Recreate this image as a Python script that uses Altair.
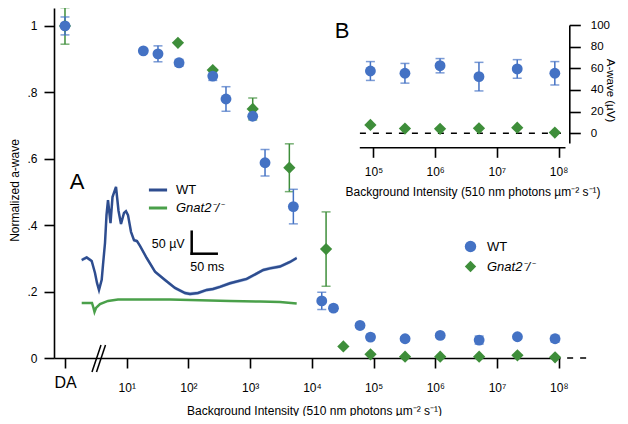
import altair as alt
import pandas as pd

FONT = "Liberation Sans"
BLUE = "#4472C4"
GREEN = "#3E8E3A"
TRACE_BLUE = "#2E4D8F"
TRACE_BAND = "#B9CCEA"
TRACE_GREEN = "#4AA04A"
GENO = ["WT", "Gnat2\u207b/\u207b"]
TRACE_SERIES = ["wt_trace", "gnat2_trace"]

# ---- Panel A: normalized a-wave vs background intensity (DA plotted at 1) ----
wt_int = [1, 18.6, 32.1, 70.5, 248, 406, 1100, 1742, 5012, 14454, 22387, 60256, 89125,
          323594, 1.2e6, 5.13e6, 2.14e7, 8.71e7]
wt_norm = [1.0, 0.925, 0.916, 0.889, 0.849, 0.78, 0.728, 0.588, 0.456, 0.172, 0.15, 0.098,
           0.063, 0.058, 0.068, 0.054, 0.064, 0.058]
wt_err = [0.027, 0.0, 0.024, 0.01, 0.013, 0.037, 0.006, 0.04, 0.052, 0.026, 0.008, 0.0,
          0.008, 0.006, 0.005, 0.012, 0.006, 0.01]

g_int = [1, 67.6, 248, 1100, 4315, 16982, 32359, 89125, 323594, 1.2e6, 5.13e6, 2.14e7, 8.71e7]
g_norm = [1.0, 0.949, 0.867, 0.75, 0.573, 0.328, 0.035, 0.011, 0.004, 0.004, 0.004, 0.008, 0.002]
g_err = [0.055, 0.0, 0.0, 0.033, 0.072, 0.112, 0.0, 0.0, 0.0, 0.0, 0.0, 0.0, 0.0]

# ---- Panel B: absolute a-wave (uV) at bright backgrounds ----
b_int = [89125, 323594, 1.2e6, 5.13e6, 2.14e7, 8.71e7]
b_wt = [57.5, 55.4, 62.4, 52.3, 59.4, 55.4]
b_wt_err = [8.7, 9.1, 6.6, 13.2, 8.6, 10.8]
b_g = [7.7, 4.3, 4.1, 4.6, 5.2, 0.6]

# ---- Inset traces (time in ms, amplitude in uV) ----
wt_t = [0, 10, 20, 26.6, 30.6, 34.6, 40, 42.6, 46.6, 49.6, 52.6, 57.6, 61.6, 68.6, 73.6,
        78.6, 84.6, 88.6, 92.6, 98.6, 104.6, 110.6, 116.6, 130, 146.6, 166.6, 186.6, 206.6,
        216.6, 232.6, 250, 262.6, 276.6, 296.6, 330, 363.2, 376.6, 396.6, 416.6, 430]
wt_uv = [0, 5.7, -2.3, -29.5, -52, -68, -45, -11, 38.6, 102, 136, 84, 143, 166, 112,
         82, 107, 111, 102, 64, 45, 43, 32, 4.5, -26.6, -45.5, -63.6, -75,
         -77, -75, -68, -66, -61, -53, -43, -22.7, -19, -15, -4.5, 4.5]
g_t = [0, 20.6, 23.6, 25.6, 28.6, 36.6, 52.6, 72.6, 116.6, 176.6, 236.6, 296.6, 356.6, 396.6, 430]
g_uv = [-97.7, -97.7, -109, -118, -109, -100, -93, -90, -90, -90, -91.6, -93, -94.3, -95.5, -99]

X_TITLE = "Background Intensity (510 nm photons \u00b5m\u207b\u00b2 s\u207b\u00b9)"
SUP = "['','\u00b9','\u00b2','\u00b3','\u2074','\u2075','\u2076','\u2077','\u2078'][round(log(datum.value)/LN10)]"

# ================= Panel A =================
SX = alt.Scale(type="log", domain=[10 ** -0.178, 10 ** 8.02], range=[46, 552], nice=False)
SY = alt.Scale(domain=[0, 1.054], range=[350, 0], nice=False, zero=False)

AXX = alt.Axis(orient="bottom", offset=-58, values=[1, 10, 1e2, 1e3, 1e4, 1e5, 1e6, 1e7, 1e8],
               labelExpr="datum.value == 1 ? 'DA' : '10' + " + SUP,
               labelFontSize=alt.expr("datum.value == 1 ? 16 : 12"),
               labelBaseline=alt.expr("datum.value == 1 ? 'middle' : 'top'"),
               tickSize=10, labelPadding=14, labelFlush=False, labelOverlap=False,
               title=X_TITLE, titleX=306, titleY=52, titleBaseline="middle", titleAlign="center")
AXY = alt.Axis(orient="left", offset=-46, values=[0, 0.2, 0.4, 0.6, 0.8, 1.0],
               labelExpr="datum.value == 0 ? '0' : datum.value == 1 ? '1' : '.' + round(datum.value * 10)",
               tickSize=10, labelPadding=7, labelFontSize=12, labelFlush=False,
               title="Normalized a-wave", titleX=-40, titleY=182, titleAngle=270,
               titleBaseline="middle", titleAlign="center")

main_df = pd.DataFrame({
    "intensity": g_int + wt_int,
    "value": g_norm + wt_norm,
    "err": g_err + wt_err,
    "genotype": [GENO[1]] * len(g_int) + [GENO[0]] * len(wt_int),
})
main_df["lo"] = main_df["value"] - main_df["err"]
main_df["hi"] = main_df["value"] + main_df["err"]

LEG = alt.Legend(title=None, orient="none", legendX=456, legendY=232, symbolSize=130,
                 labelFontSize=13, labelFont=FONT, labelOffset=10, rowPadding=6, padding=0,
                 symbolStrokeWidth=0, labelColor="black",
                 labelFontStyle=alt.expr("datum.label == 'WT' ? 'normal' : 'italic'"))
col_leg = alt.Color("genotype:N", scale=alt.Scale(domain=GENO, range=[BLUE, GREEN]), legend=LEG)
shp_leg = alt.Shape("genotype:N", scale=alt.Scale(domain=GENO, range=["circle", "diamond"]), legend=LEG)

xA = alt.X("intensity:Q", scale=SX, axis=AXX)


def err_layers(df, color):
    e = df[df["err"] > 0]
    caps = pd.concat([e.assign(cap=e["lo"]), e.assign(cap=e["hi"])])
    r = alt.Chart(e).mark_rule(strokeWidth=1.5, color=color).encode(
        x=xA, y=alt.Y("lo:Q", scale=SY, axis=AXY), y2="hi:Q")
    c = alt.Chart(caps).mark_tick(orient="horizontal", size=9, thickness=1.5, color=color).encode(
        x=xA, y=alt.Y("cap:Q", scale=SY, axis=AXY))
    return [r, c]


wt_df = main_df[main_df["genotype"] == GENO[0]]
gn_df = main_df[main_df["genotype"] == GENO[1]]

a_pts_g = alt.Chart(gn_df).mark_point(
    filled=True, opacity=1, size=150, strokeWidth=0).encode(
    x=xA, y=alt.Y("value:Q", scale=SY, axis=AXY), color=col_leg, shape=shp_leg)
a_pts_wt = alt.Chart(wt_df).mark_point(
    filled=True, opacity=1, size=118, strokeWidth=0).encode(
    x=xA, y=alt.Y("value:Q", scale=SY, axis=AXY), color=col_leg, shape=shp_leg)

ext_df = pd.DataFrame({"x": [10 ** 7.925], "x2": [10 ** 8.46], "y": [0.0]})
a_ext = alt.Chart(ext_df).mark_rule(strokeWidth=1.5, strokeDash=[6, 7], color="black").encode(
    x=alt.X("x:Q", scale=SX, axis=AXX), x2="x2:Q", y=alt.Y("y:Q", scale=SY, axis=AXY))

brk_df = pd.DataFrame({"x": [10 ** 0.4376, 10 ** 0.5106], "x2": [10 ** 0.5835, 10 ** 0.6565],
                       "y": [-0.042, -0.042], "y2": [0.039, 0.039]})
a_brk = alt.Chart(brk_df).mark_rule(strokeWidth=1.5, color="black").encode(
    x=alt.X("x:Q", scale=SX, axis=AXX), x2="x2:Q",
    y=alt.Y("y:Q", scale=SY, axis=AXY), y2="y2:Q")

panelA = alt.layer(a_ext, a_brk, *err_layers(gn_df, GREEN), *err_layers(wt_df, BLUE),
                   a_pts_g, a_pts_wt)

# ================= Panel B =================
BX = alt.Scale(type="log", domain=[10 ** 4.77, 10 ** 8.105], range=[351.3, 557], nice=False)
BY = alt.Scale(domain=[-9, 100], range=[135, 17], nice=False, zero=False)
BAXX = alt.Axis(orient="bottom", offset=-268.7, values=[1e5, 1e6, 1e7, 1e8],
                labelExpr="'10' + " + SUP, tickSize=10, labelPadding=9, labelFontSize=12,
                labelFlush=False, title=X_TITLE, titleX=464.5, titleY=44.4,
                titleBaseline="middle", titleAlign="center")
BAXY = alt.Axis(orient="right", offset=-50.7, values=[0, 20, 40, 60, 80, 100],
                tickSize=11, labelPadding=10, labelFontSize=11.5, labelFlush=False,
                title="A-wave (\u00b5V)", titleAngle=90, titleX=40, titleY=82,
                titleFontSize=11.5, titleBaseline="middle", titleAlign="center")

b_df = pd.DataFrame({"intensity": b_int, "wt": b_wt, "g": b_g,
                     "lo": [v - e for v, e in zip(b_wt, b_wt_err)],
                     "hi": [v + e for v, e in zip(b_wt, b_wt_err)]})
b_caps = pd.concat([b_df.assign(cap=b_df["lo"]), b_df.assign(cap=b_df["hi"])])
xB = alt.X("intensity:Q", scale=BX, axis=BAXX)

b_zero_df = pd.DataFrame({"x": [10 ** 4.78], "x2": [10 ** 8.07], "y": [0.0]})
b_zero = alt.Chart(b_zero_df).mark_rule(strokeWidth=1.5, strokeDash=[6, 7], color="black").encode(
    x=alt.X("x:Q", scale=BX, axis=BAXX), x2="x2:Q", y=alt.Y("y:Q", scale=BY, axis=BAXY))
b_rules = alt.Chart(b_df).mark_rule(strokeWidth=1.5, color=BLUE).encode(
    x=xB, y=alt.Y("lo:Q", scale=BY, axis=BAXY), y2="hi:Q")
b_capm = alt.Chart(b_caps).mark_tick(orient="horizontal", size=9, thickness=1.5, color=BLUE).encode(
    x=xB, y=alt.Y("cap:Q", scale=BY, axis=BAXY))
b_wt_pts = alt.Chart(b_df).mark_point(filled=True, opacity=1, size=118, shape="circle",
                                      color=BLUE, strokeWidth=0).encode(
    x=xB, y=alt.Y("wt:Q", scale=BY, axis=BAXY))
b_g_pts = alt.Chart(b_df).mark_point(filled=True, opacity=1, size=150, shape="diamond",
                                     color=GREEN, strokeWidth=0).encode(
    x=xB, y=alt.Y("g:Q", scale=BY, axis=BAXY))
b_lab_df = pd.DataFrame({"x": [30900], "y": [94.5], "t": ["B"]})
b_lab = alt.Chart(b_lab_df).mark_text(fontSize=22, font=FONT, align="center", baseline="middle",
                                      color="black").encode(
    x=alt.X("x:Q", scale=BX, axis=BAXX), y=alt.Y("y:Q", scale=BY, axis=BAXY), text="t:N")

panelB = alt.layer(b_zero, b_rules, b_capm, b_g_pts, b_wt_pts, b_lab)

# ================= Trace inset =================
TX = alt.Scale(domain=[0, 430], range=[73.7, 288.7], nice=False, zero=False)
TY = alt.Scale(domain=[-150, 200], range=[318, 164], nice=False, zero=False)
xT = lambda f: alt.X(f, scale=TX, axis=None)
yT = lambda f: alt.Y(f, scale=TY, axis=None)

band_df = pd.DataFrame({"t": wt_t, "lo": [v - 4 for v in wt_uv], "hi": [v + 4 for v in wt_uv]})
trace_df = pd.concat([
    pd.DataFrame({"t": wt_t, "uv": wt_uv, "series": TRACE_SERIES[0]}),
    pd.DataFrame({"t": g_t, "uv": g_uv, "series": TRACE_SERIES[1]}),
])
TLEG = alt.Legend(title=None, orient="none", legendX=139, legendY=171, symbolSize=330,
                  symbolStrokeWidth=3, symbolType="stroke", labelFontSize=13, labelFont=FONT,
                  labelOffset=7, rowPadding=0, padding=0, labelColor="black",
                  labelExpr="datum.label == 'wt_trace' ? 'WT' : 'Gnat2\u207b/\u207b'",
                  labelFontStyle=alt.expr("datum.label == 'wt_trace' ? 'normal' : 'italic'"))

t_band = alt.Chart(band_df).mark_area(color=TRACE_BAND, opacity=1).encode(
    x=xT("t:Q"), y=yT("lo:Q"), y2="hi:Q")
t_lines = alt.Chart(trace_df).mark_line(strokeWidth=2.5).encode(
    x=xT("t:Q"), y=yT("uv:Q"), detail="series:N",
    color=alt.Color("series:N", scale=alt.Scale(domain=TRACE_SERIES, range=[TRACE_BLUE, TRACE_GREEN]),
                    legend=TLEG))
bar_df = pd.DataFrame({"t": [220, 220], "t2": [220, 270], "uv": [14.3, 14.3], "uv2": [64.3, 14.3]})
t_bar = alt.Chart(bar_df).mark_rule(strokeWidth=2.5, color="black", strokeCap="square").encode(
    x=xT("t:Q"), x2="t2:Q", y=yT("uv:Q"), y2="uv2:Q")
uv_lab = alt.Chart(pd.DataFrame({"t": [206], "uv": [36], "s": ["50 \u00b5V"]})).mark_text(
    fontSize=12.5, font=FONT, align="right", baseline="middle", color="black").encode(
    x=xT("t:Q"), y=yT("uv:Q"), text="s:N")
ms_lab = alt.Chart(pd.DataFrame({"t": [217], "uv": [-17], "s": ["50 ms"]})).mark_text(
    fontSize=12.5, font=FONT, align="left", baseline="middle", color="black").encode(
    x=xT("t:Q"), y=yT("uv:Q"), text="s:N")
a_lab = alt.Chart(pd.DataFrame({"t": [-9.4], "uv": [177], "s": ["A"]})).mark_text(
    fontSize=22, font=FONT, align="center", baseline="middle", color="black").encode(
    x=xT("t:Q"), y=yT("uv:Q"), text="s:N")

panelT = alt.layer(t_band, t_lines, t_bar, uv_lab, ms_lab, a_lab)

chart = alt.layer(panelA, panelB, panelT).resolve_scale(
    x="independent", y="independent", color="independent", shape="independent"
).resolve_legend(color="independent", shape="independent").properties(
    width=612, height=408, autosize=alt.AutoSizeParams(type="none"), padding=0
).configure_view(stroke=None).configure_axis(
    grid=False, labelFont=FONT, titleFont=FONT, labelColor="black", titleColor="black",
    titleFontSize=12, titleFontWeight="normal", domainColor="black", tickColor="black",
    domainWidth=1.6, tickWidth=1.6
).configure_legend(labelFont=FONT)

chart.save("out.html", embed_options={"renderer": "svg", "actions": False})
